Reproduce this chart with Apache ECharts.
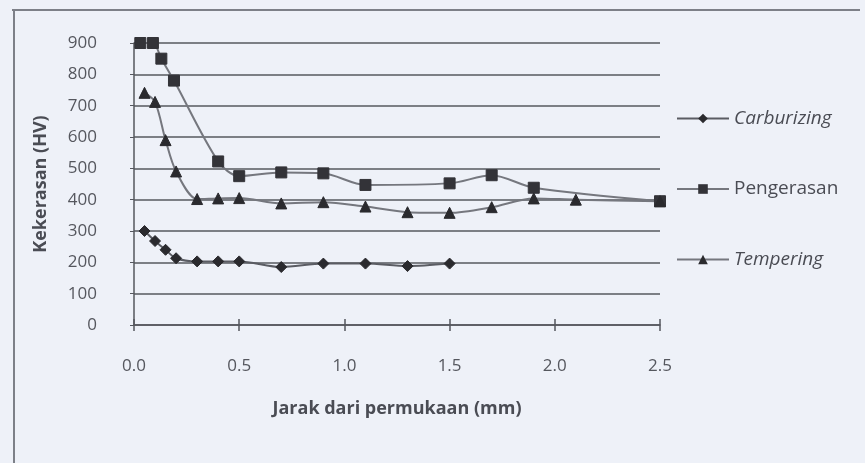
<!DOCTYPE html>
<html>
<head>
<meta charset="utf-8">
<script src="https://cdn.jsdelivr.net/npm/echarts@6/dist/echarts.min.js"></script>
<style>
html,body{margin:0;padding:0;background:#eef1f8;}
#c{width:865px;height:463px;}
</style>
</head>
<body>
<div id="c"></div>
<script>
// Data
const seriesNames = ['Carburizing', 'Pengerasan', 'Tempering'];
const carburizingX = [0.05, 0.1, 0.15, 0.2, 0.3, 0.4, 0.5, 0.7, 0.9, 1.1, 1.3, 1.5];
const carburizingY = [300, 268, 240, 213, 203, 203, 203, 185, 196, 196, 188, 196];
const pengerasanX = [0.03, 0.09, 0.13, 0.19, 0.4, 0.5, 0.7, 0.9, 1.1, 1.5, 1.7, 1.9, 2.5];
const pengerasanY = [900, 900, 850, 780, 522, 475, 487, 484, 447, 452, 478, 438, 395];
const temperingX = [0.05, 0.1, 0.15, 0.2, 0.3, 0.4, 0.5, 0.7, 0.9, 1.1, 1.3, 1.5, 1.7, 1.9, 2.1, 2.5];
const temperingY = [741, 712, 590, 490, 402, 404, 405, 388, 392, 378, 360, 358, 376, 404, 400, 395];
const yTicks = [0, 100, 200, 300, 400, 500, 600, 700, 800, 900];
const xTicks = [0.0, 0.5, 1.0, 1.5, 2.0, 2.5];

function pairs(xs, ys) { return xs.map((x, i) => [x, ys[i]]); }

const chart = echarts.init(document.getElementById('c'));
const fontFam = '"Open Sans", "Noto Sans", sans-serif';
const textCol = '#4a4c54';
chart.setOption({
  backgroundColor: '#eef1f8',
  animation: false,
  graphic: [
    { type: 'line', shape: { x1: 12, y1: 10, x2: 860, y2: 10 }, style: { stroke: '#7d8088', lineWidth: 2 } },
    { type: 'line', shape: { x1: 14, y1: 10, x2: 14, y2: 463 }, style: { stroke: '#7d8088', lineWidth: 2 } }
  ],
  grid: { left: 134, right: 205, top: 43, bottom: 138, containLabel: false },
  legend: {
    orient: 'vertical',
    left: 671,
    top: 104,
    itemWidth: 52,
    itemHeight: 12,
    itemGap: 51.5,
    data: seriesNames,
    textStyle: {
      fontFamily: fontFam,
      fontSize: 19,
      color: textCol,
      rich: {
        i: { fontStyle: 'italic', fontFamily: fontFam, fontSize: 19, lineHeight: 20, color: textCol },
        n: { fontFamily: fontFam, fontSize: 19, lineHeight: 20, color: textCol }
      }
    },
    formatter: function (name) {
      return name === 'Pengerasan' ? '{n|' + name + '}' : '{i|' + name + '}';
    }
  },
  xAxis: [{
    type: 'value',
    min: 0, max: 2.5, interval: 0.5,
    name: 'Jarak dari permukaan (mm)',
    nameLocation: 'middle',
    nameGap: 75,
    nameTextStyle: { fontFamily: fontFam, fontSize: 18, fontWeight: 'bold', color: textCol },
    axisLine: { show: true, lineStyle: { color: '#55575e', width: 1.5 } },
    axisTick: { show: true, length: 6, lineStyle: { color: '#55575e', width: 1.5 } },
    splitLine: { show: false },
    axisLabel: {
      margin: 33, fontFamily: fontFam, fontSize: 17, color: '#55575e',
      formatter: v => v.toFixed(1)
    }
  }, {
    type: 'value',
    position: 'bottom',
    min: 0, max: 2.5, interval: 0.5,
    axisLine: { show: false },
    axisTick: { show: true, inside: true, length: 6, lineStyle: { color: '#55575e', width: 1.5 } },
    axisLabel: { show: false },
    splitLine: { show: false }
  }],
  yAxis: {
    type: 'value',
    min: 0, max: 900, interval: 100,
    name: 'Kekerasan (HV)',
    nameLocation: 'middle',
    nameGap: 84,
    nameRotate: 90,
    nameTextStyle: { fontFamily: fontFam, fontSize: 18, fontWeight: 'bold', color: textCol },
    axisLine: { show: true, lineStyle: { color: '#55575e', width: 1.5 } },
    axisTick: { show: true, length: 4, lineStyle: { color: '#55575e' } },
    splitLine: { show: true, lineStyle: { color: '#56585f', width: 1.5 } },
    axisLabel: { margin: 37, fontFamily: fontFam, fontSize: 17, color: '#55575e' }
  },
  series: [
    {
      name: seriesNames[0], type: 'line', data: pairs(carburizingX, carburizingY),
      symbol: 'diamond', symbolSize: 11, smooth: 0.3,
      lineStyle: { color: '#5a5c63', width: 2 },
      itemStyle: { color: '#2a2a2e', borderColor: '#2a2a2e' }
    },
    {
      name: seriesNames[1], type: 'line', data: pairs(pengerasanX, pengerasanY),
      symbol: 'rect', symbolSize: 11, smooth: 0.3,
      lineStyle: { color: '#75777e', width: 2 },
      itemStyle: { color: '#333338', borderColor: '#333338' }
    },
    {
      name: seriesNames[2], type: 'line', data: pairs(temperingX, temperingY),
      symbol: 'triangle', symbolSize: 11, smooth: 0.3,
      lineStyle: { color: '#75777e', width: 2 },
      itemStyle: { color: '#2a2a2e', borderColor: '#2a2a2e' }
    }
  ]
});
</script>
</body>
</html>
